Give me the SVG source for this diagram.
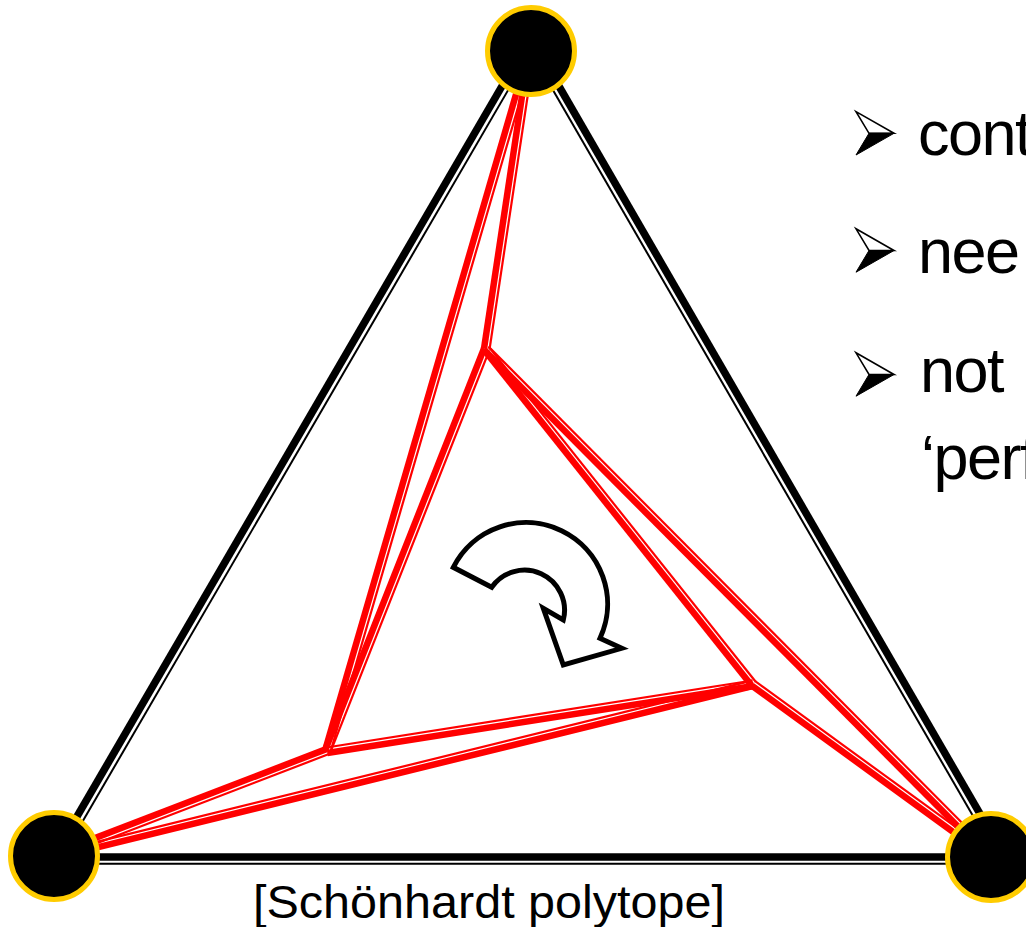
<svg xmlns="http://www.w3.org/2000/svg" width="1026" height="927" viewBox="0 0 1026 927">
<style>
.tk{stroke:#000;stroke-width:7.5;fill:none}
.nk{stroke:#000;stroke-width:2;fill:none}
.tr{stroke:#f00;stroke-width:6.5;fill:none}
.nr{stroke:#f00;stroke-width:2.2;fill:none}
.vertex{fill:#000;stroke:#FFCC00;stroke-width:5}
.lbl{font-family:"Liberation Sans",Arial,sans-serif;fill:#000}
.bt{letter-spacing:-1.5px}
</style>
<defs>
  <g id="bullet">
    <polygon points="0,-21.7 38,0 13,0" fill="#fff" stroke="#000" stroke-width="1.6" stroke-linejoin="miter"/>
    <polygon points="13,0 38,0 0,21.7" fill="#000" stroke="#000" stroke-width="1" stroke-linejoin="miter"/>
  </g>
</defs>
<rect width="1026" height="927" fill="#fff"/>
<g id="connectors">
  <g id="outer-edges">
    <line class="tk" x1="523" y1="50" x2="54" y2="856"/>
    <line class="nk" x1="529.3" y1="53.7" x2="60.3" y2="859.7"/>
    <line class="tk" x1="538" y1="50" x2="1005" y2="857"/>
    <line class="nk" x1="531.8" y1="53.6" x2="998.8" y2="860.6"/>
    <line class="tk" x1="54" y1="857" x2="991" y2="857"/>
    <line class="nk" x1="54" y1="863.8" x2="991" y2="863.8"/>
  </g>
  <g id="red-edges">
    <line class="tr" x1="529" y1="49.7" x2="484" y2="348.7"/>
    <line class="nr" x1="534.5" y1="50.5" x2="489.5" y2="349.5"/>
    <line class="tr" x1="529.1" y1="49.4" x2="325.1" y2="750.4"/>
    <line class="nr" x1="534.4" y1="51" x2="330.4" y2="752"/>
    <line class="tr" x1="484.1" y1="348.3" x2="325.1" y2="750.3"/>
    <line class="nr" x1="489.3" y1="350.3" x2="330.3" y2="752.3"/>
    <line class="tr" x1="326.3" y1="749.1" x2="53.3" y2="854.1"/>
    <line class="nr" x1="328.3" y1="754.3" x2="55.3" y2="859.3"/>
    <line class="tr" x1="327.3" y1="753" x2="753.3" y2="686"/>
    <line class="nr" x1="326.5" y1="747.5" x2="752.5" y2="680.5"/>
    <line class="tr" x1="54.5" y1="857.9" x2="753.5" y2="685.9"/>
    <line class="nr" x1="53.2" y1="852.6" x2="752.2" y2="680.6"/>
    <line class="tr" x1="484.4" y1="350.2" x2="751.4" y2="685.2"/>
    <line class="nr" x1="488.7" y1="346.8" x2="755.7" y2="681.8"/>
    <line class="tr" x1="751.8" y1="685.6" x2="989.8" y2="858.6"/>
    <line class="nr" x1="755.1" y1="681.2" x2="993.1" y2="854.2"/>
    <line class="tr" x1="484.6" y1="350.4" x2="989.6" y2="858.4"/>
    <line class="nr" x1="488.5" y1="346.5" x2="993.5" y2="854.5"/>
  </g>
</g>
<g id="node-top"><circle class="vertex" cx="531" cy="51" r="43.5"/></g>
<g id="node-left"><circle class="vertex" cx="54" cy="856" r="43.5"/></g>
<g id="node-right"><circle class="vertex" cx="991" cy="857" r="43.5"/></g>
<g id="rotation-arrow">
  <path d="M453.3,567.3 A81.5,81.5 0 0 1 600,638.3 L621.7,648.3 L563.3,665 L543.3,608.3 L563.3,620 A40,40 0 0 0 491.7,587.3 Z" fill="#fff" stroke="#000" stroke-width="5" stroke-linejoin="miter"/>
</g>
<g id="bullets">
  <use href="#bullet" transform="translate(856,133.3)"/>
  <text class="lbl bt" x="918" y="155" font-size="63">cont</text>
  <use href="#bullet" transform="translate(856,250.5)"/>
  <text class="lbl bt" x="918" y="273" font-size="63">nee</text>
  <use href="#bullet" transform="translate(856,374.5)"/>
  <text class="lbl bt" x="920" y="392" font-size="63">not</text>
  <text class="lbl bt" x="921" y="479" font-size="63">‘perf</text>
</g>
<g id="caption">
  <text class="lbl" x="489" y="918" font-size="47" text-anchor="middle" textLength="472" lengthAdjust="spacingAndGlyphs">[Schönhardt polytope]</text>
</g>
</svg>
